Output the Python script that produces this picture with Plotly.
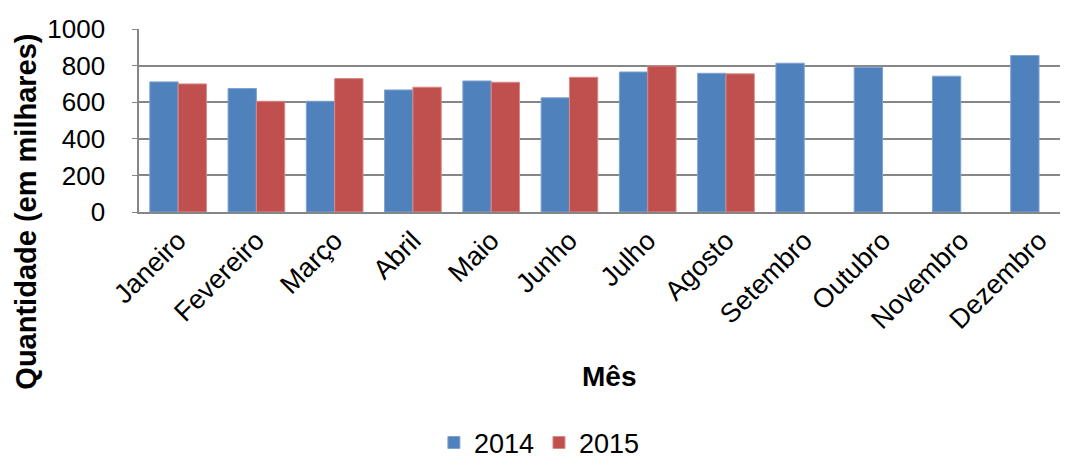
import plotly.graph_objects as go

meses = ["Janeiro", "Fevereiro", "Março", "Abril", "Maio", "Junho",
         "Julho", "Agosto", "Setembro", "Outubro", "Novembro", "Dezembro"]
v2014 = [711, 675, 605, 667, 716, 624, 765, 758, 813, 791, 742, 855]
v2015 = [700, 605, 729, 682, 709, 736, 798, 755, None, None, None, None]

font = "Liberation Sans, Arial, sans-serif"

fig = go.Figure()
fig.add_trace(go.Bar(x=meses, y=v2014, name="2014",
                     marker=dict(color="#4F81BD", line=dict(color="#7FA3D0", width=1))))
fig.add_trace(go.Bar(x=meses, y=v2015, name="2015",
                     marker=dict(color="#C0504D", line=dict(color="#D78A88", width=1))))

# the page has an 8px body margin, so the figure is a bit smaller than the window;
# the original chart is cropped on the right, so the x range stops short of Dezembro's slot
fig.update_layout(
    width=1060, height=451,
    margin=dict(l=131, r=0, t=21, b=247, autoexpand=False),
    paper_bgcolor="white", plot_bgcolor="white",
    barmode="group", bargap=0.276, bargroupgap=0,
    font=dict(family=font, size=26, color="black"),
    showlegend=True,
    legend=dict(orientation="h", x=0.431, xanchor="center", y=-1.262, yanchor="middle",
                font=dict(size=27), itemwidth=30, traceorder="normal"),
    annotations=[
        dict(text="<b>Mês</b>", xref="paper", yref="paper", x=0.506, y=-0.9,
             showarrow=False, font=dict(size=28), xanchor="center", yanchor="middle"),
        dict(text="<b>Quantidade (em milhares)</b>", xref="paper", yref="paper",
             x=-0.122, y=0.0, xanchor="center", yanchor="middle", textangle=-90,
             showarrow=False, font=dict(size=29)),
    ],
)
fig.update_yaxes(range=[0, 1000], dtick=200, showgrid=True, gridcolor="#868686",
                 gridwidth=2, showline=True, linecolor="#868686", linewidth=2,
                 ticks="outside", ticklen=5, tickcolor="#868686", zeroline=False,
                 tickfont=dict(size=26), ticksuffix="\u00a0\u00a0\u00a0")
fig.update_xaxes(tickangle=-45, showline=True, linecolor="#868686", linewidth=2,
                 showgrid=False, tickfont=dict(size=27), range=[-0.5, 11.37])

fig.write_html("out.html")
